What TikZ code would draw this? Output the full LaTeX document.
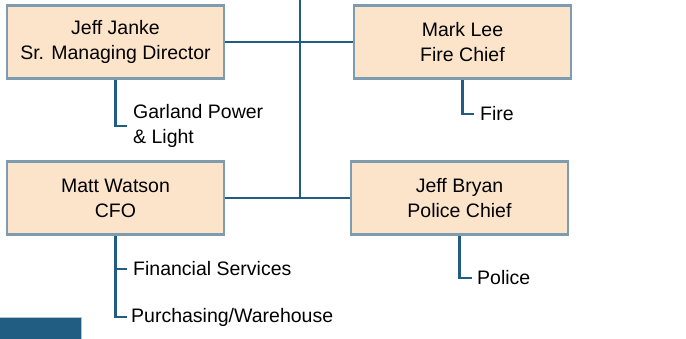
\documentclass[tikz,border=0pt]{standalone}
\usepackage{fontspec}
\setmainfont{Liberation Sans}
\definecolor{boxfill}{HTML}{FCE4CA}
\definecolor{boxedge}{HTML}{7E9CB0}
\definecolor{linkblue}{HTML}{215D82}
\tikzset{
  person/.style={draw=boxedge, line width=2.5pt, fill=boxfill, minimum width=217pt,
    minimum height=73pt, align=center, inner sep=0pt},
  unit/.style={anchor=west, align=left, inner xsep=6pt, inner ysep=0pt},
  link/.style={draw=linkblue, line width=2.5pt}
}
\begin{document}
\begin{tikzpicture}[x=1pt, y=-1pt, font=\fontsize{19.5}{25}\selectfont]
  \useasboundingbox (0,0) rectangle (686,339);
  % people
  \node[person] (janke) at (115.5,42) {Jeff Janke\\Sr. Managing Director};
  \node[person] (lee) at (462.5,42) {Mark Lee\\Fire Chief};
  \node[person] (watson) at (115.5,198) {Matt Watson\\CFO};
  \node[person] (bryan) at (459.5,198) {Jeff Bryan\\Police Chief};
  % departments
  \node[unit] (gpl) at (127,126) {Garland Power\\\& Light};
  \node[unit] (fin) at (127,269) {Financial Services};
  \node[unit, inner xsep=4pt] (pur) at (127,317) {Purchasing/Warehouse};
  \node[unit] (fire) at (474,114) {Fire};
  \node[unit, inner xsep=5pt] (police) at (472,278) {Police};
  % trunk and branches
  \coordinate (top) at (300,-2);
  \draw[link] (top) -- (top |- watson.east);
  \draw[link] (janke) -- (lee);
  \draw[link] (watson) -- (bryan);
  \draw[link] (janke.south) |- (gpl.west);
  \draw[link] (watson.south) |- (fin.west);
  \draw[link] (watson.south) |- (pur.west);
  \draw[link] (lee.south) |- (fire.west);
  \draw[link] (bryan.south) |- (police.west);
  % corner box
  \draw[draw=boxedge!60, fill=linkblue, line width=1pt] (-2,318) rectangle (81,342);
\end{tikzpicture}
\end{document}
